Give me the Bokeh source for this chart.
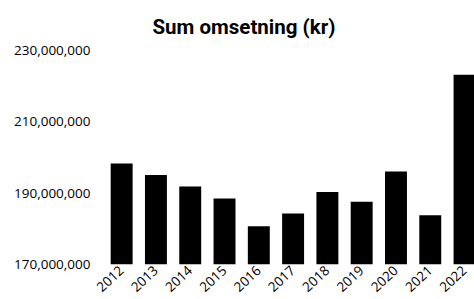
import math
from bokeh.plotting import figure
from bokeh.models import ColumnDataSource, Range1d, FixedTicker, NumeralTickFormatter
from bokeh.embed import file_html
from bokeh.resources import INLINE

years = ["2012", "2013", "2014", "2015", "2016", "2017", "2018", "2019", "2020", "2021", "2022"]
omsetning = [198300000, 195100000, 191900000, 188500000, 180700000, 184300000,
             190300000, 187600000, 196100000, 183800000, 223200000]
y_ticks = [170000000, 190000000, 210000000, 230000000]
title_text = "Sum omsetning (kr)"

idx = list(range(len(years)))
source = ColumnDataSource(data=dict(x=idx, top=omsetning, year=years,
                                    base=[y_ticks[0]] * len(years)))

p = figure(width=474, height=299, output_backend="svg", toolbar_location=None,
           x_range=Range1d(-0.5, 10.29), y_range=Range1d(y_ticks[0], y_ticks[-1]),
           min_border_left=104, min_border_right=0, min_border_top=50,
           min_border_bottom=34)

p.vbar(x="x", top="top", bottom="base", width=0.64, source=source,
       fill_color="black", line_color=None)

p.title.text = title_text
p.title.text_font = "Roboto"
p.title.text_font_style = "bold"
p.title.text_font_size = "20.5px"
p.title.text_color = "black"
p.title.align = "left"
p.title.offset = 48
p.title.standoff = 24

p.xgrid.visible = False
p.ygrid.visible = False
p.outline_line_color = None

xa = p.xaxis[0]
xa.ticker = FixedTicker(ticks=idx)
xa.major_label_overrides = {i: y for i, y in zip(idx, years)}
xa.major_label_orientation = math.radians(43)
xa.axis_line_color = None
xa.major_tick_line_color = None
xa.minor_tick_line_color = None
xa.major_tick_out = 0
xa.major_tick_in = 0
xa.minor_tick_out = 0
xa.minor_tick_in = 0
xa.major_label_standoff = 4
xa.major_label_text_font = "Open Sans"
xa.major_label_text_font_size = "13.5px"
xa.major_label_text_color = "black"

ya = p.yaxis[0]
ya.ticker = FixedTicker(ticks=y_ticks)
ya.formatter = NumeralTickFormatter(format="0,0")
ya.axis_line_color = None
ya.major_tick_line_color = None
ya.minor_tick_line_color = None
ya.major_tick_out = 0
ya.major_tick_in = 0
ya.minor_tick_out = 0
ya.minor_tick_in = 0
ya.major_label_standoff = 14
ya.major_label_text_font = "Open Sans"
ya.major_label_text_font_size = "13.5px"
ya.major_label_text_color = "black"

open("out.html", "w").write(file_html(p, INLINE))
